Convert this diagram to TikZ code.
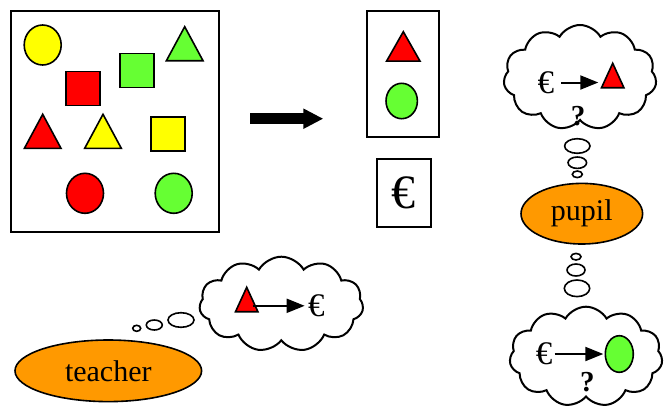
\documentclass[tikz,border=0pt]{standalone}
\usepackage{fontspec}
\setmainfont{Liberation Serif}
\usepackage{tikz}
\usetikzlibrary{arrows.meta,shapes.geometric,shapes.symbols}
\definecolor{shapered}{RGB}{255,0,0}
\definecolor{shapeyellow}{RGB}{255,255,0}
\definecolor{shapegreen}{RGB}{102,255,51}
\definecolor{roleorange}{RGB}{255,153,0}

\begin{document}
\begin{tikzpicture}[x=0.5pt,y=-0.5pt,
frame/.style={draw,line width=1pt,inner sep=0pt,outer sep=0pt},
shp/.style={draw,line width=0.8pt,inner sep=0pt,outer sep=0pt},
circ/.style={shp,ellipse,minimum width=18.5pt,minimum height=20pt},
sq/.style={shp,rectangle,minimum size=17pt},
tri/.style={shp,isosceles triangle,isosceles triangle stretches,rotate=90,anchor=apex,minimum width=18.3pt,minimum height=17pt},
smalltri/.style={tri,minimum width=11.2pt,minimum height=12.2pt},
role/.style={draw,line width=0.8pt,ellipse,fill=roleorange,inner sep=0pt,font=\fontsize{15}{18}\selectfont},
thought/.style={draw,line width=1pt,cloud,cloud puffs=11,cloud puff arc=120,inner sep=0pt},
bubble/.style={draw,line width=0.8pt,ellipse,inner sep=0pt},
euro/.style={inner sep=0pt,font=\fontsize{16.5}{18}\selectfont},
ask/.style={inner sep=0pt,font=\bfseries\fontsize{14.5}{17}\selectfont},
link/.style={line width=1pt,-{Triangle[length=9pt,width=7pt]}},
bigarrow/.style={line width=5.3pt,-{Triangle[length=10pt,width=9.5pt]}}]
\useasboundingbox (0,0) rectangle (667,407);

\node[frame,minimum width=104pt,minimum height=110.5pt] (pool) at (115,121.5) {};
\node[circ,fill=shapeyellow] (c1) at (42.7,45) {};
\node[sq,fill=shapered] (s1) at (82.7,88.3) {};
\node[sq,fill=shapegreen] (s2) at (137,70.5) {};
\node[tri,fill=shapegreen] (t1) at (184.7,26.7) {};
\node[tri,fill=shapered] (t2) at (42.7,114.3) {};
\node[tri,fill=shapeyellow] (t3) at (103,114.3) {};
\node[sq,fill=shapeyellow] (s3) at (168.2,133.7) {};
\node[circ,fill=shapered] (c2) at (85,193.3) {};
\node[circ,fill=shapegreen] (c3) at (173.7,193.3) {};

\coordinate (go) at (250,118.7);
\coordinate (gone) at (323.3,118.7);
\draw[bigarrow] (go) -- (gone);

\node[frame,minimum width=36.2pt,minimum height=63.2pt] (pick) at (403.2,74.2) {};
\node[tri,fill=shapered,minimum width=16.7pt,minimum height=14.7pt] (pt) at (403.3,31.7) {};
\node[circ,fill=shapegreen,minimum width=15.7pt,minimum height=17.7pt] (pc) at (401.7,101) {};
\node[frame,minimum width=27pt,minimum height=34pt,font=\fontsize{24}{28}\selectfont] (pay) at (403.7,193.3) {€};

\node[role,minimum width=93.3pt,minimum height=30.8pt] (teacher) at (108.3,370.8) {teacher};
\node[bubble,minimum width=4pt,minimum height=3pt] (tb1) at (136.7,328.3) {};
\node[bubble,minimum width=8pt,minimum height=5pt] (tb2) at (154.3,325) {};
\node[bubble,minimum width=13pt,minimum height=7.3pt] (tb3) at (181,320) {};
\node[thought,minimum width=82pt,minimum height=47.5pt] (tcloud) at (281.3,304.2) {};
\node[smalltri,fill=shapered] (ttri) at (246.7,287.3) {};
\node[euro] (teuro) at (316.3,305.8) {€};
\draw[link,shorten <=3pt,shorten >=1.5pt] (ttri.center |- teuro) -- (teuro);

\node[role,minimum width=60.8pt,minimum height=30.3pt] (pupil) at (581.8,213.7) {pupil};
\node[bubble,minimum width=12.7pt,minimum height=7.3pt] (ub1) at (577.3,146) {};
\node[bubble,minimum width=9.3pt,minimum height=5.7pt] (ub2) at (577.3,162.7) {};
\node[bubble,minimum width=5pt,minimum height=3.3pt] (ub3) at (577.3,174.3) {};
\node[thought,minimum width=76.5pt,minimum height=52.5pt] (ucloud) at (580,77.5) {};
\node[euro] (ueuro) at (545.8,82.5) {€};
\node[smalltri,fill=shapered] (utri) at (612.7,63.3) {};
\node[ask] (uask) at (578,116) {?};
\draw[link,shorten <=3.4pt,shorten >=7.2pt] (ueuro) -- (ueuro -| utri.center);

\node[bubble,minimum width=5pt,minimum height=3.3pt] (db1) at (576,256.7) {};
\node[bubble,minimum width=9pt,minimum height=6pt] (db2) at (576,270) {};
\node[bubble,minimum width=12.7pt,minimum height=8.3pt] (db3) at (577,288.3) {};
\node[thought,minimum width=76.5pt,minimum height=50pt] (dcloud) at (586,356.7) {};
\node[euro] (deuro) at (544,354) {€};
\node[circ,fill=shapegreen,minimum width=14pt,minimum height=18.3pt] (dcirc) at (619.3,354) {};
\node[ask] (dask) at (587.3,381.7) {?};
\draw[link,shorten <=1pt,shorten >=1pt] (deuro) -- (dcirc);
\end{tikzpicture}
\end{document}
